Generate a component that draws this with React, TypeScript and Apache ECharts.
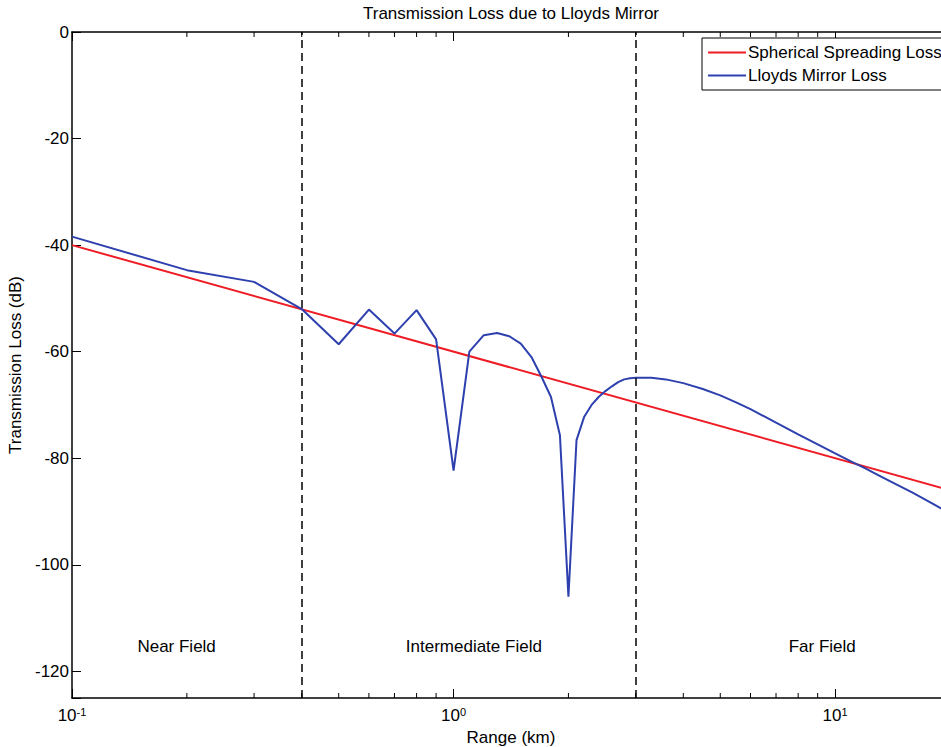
import React, { useEffect, useRef } from 'react';
import * as echarts from 'echarts';

const FONT = "'Liberation Sans', Arial, Helvetica, sans-serif";

// Spherical spreading loss (straight line on log range axis)
const sphericalRange = [0.1, 20];
const sphericalLoss = [-40.0, -86.0];

// Lloyds mirror loss
const lloydsRange = [
  0.1, 0.2, 0.3, 0.4, 0.5, 0.6, 0.7, 0.8, 0.9, 1.0,
  1.1, 1.2, 1.3, 1.4, 1.5, 1.6, 1.7, 1.8, 1.9, 2.0,
  2.1, 2.2, 2.3, 2.4, 2.5, 2.6, 2.7, 2.8, 2.9, 3.0,
  3.3, 3.6, 4.0, 4.5, 5.0, 5.5, 6.0, 7.0, 8.0, 9.0,
  10, 11, 12, 13, 14, 16, 18, 20,
];
const lloydsLoss = [
  -38.4, -44.7, -46.9, -52.0, -58.6, -52.1, -56.6, -52.2, -57.7, -82.3,
  -60.0, -56.9, -56.5, -57.1, -58.5, -61.0, -64.7, -68.5, -75.7, -106.0,
  -76.6, -72.2, -70.0, -68.5, -67.4, -66.5, -65.7, -65.2, -65.0, -64.9,
  -64.9, -65.2, -65.9, -67.0, -68.2, -69.5, -70.8, -73.3, -75.5, -77.4,
  -79.1, -80.6, -81.9, -83.2, -84.4, -86.5, -88.5, -90.4,
];

// Field boundaries (km)
const boundaries = [0.4, 3];

// Field labels
const fieldNames = ['Near Field', 'Intermediate Field', 'Far Field'];
const fieldRange = [0.188, 1.13, 9.25];
const fieldLoss = [-115.3, -115.3, -115.3];

// Minor tick values on the log range axis
const minorTicks = [0.2, 0.3, 0.4, 0.5, 0.6, 0.7, 0.8, 0.9, 2, 3, 4, 5, 6, 7, 8, 9, 20];

const X_MIN = 0.1;
const X_MAX = 20;
const Y_MIN = -125;
const Y_MAX = 0;

export default function App() {
  const ref = useRef<HTMLDivElement>(null);

  useEffect(() => {
    document.body.style.margin = '0';
    if (!ref.current) return;
    const chart = echarts.init(ref.current, null, { renderer: 'svg' });

    const xLabelFormatter = (v: number) => {
      const e = Math.round(Math.log10(v));
      if (Math.abs(Math.pow(10, e) - v) > 1e-6 * v) return '';
      return `{b|10}{s|${e}}`;
    };

    const tickStyle = { color: '#000', width: 1 };
    const axisLineStyle = { color: '#000', width: 1.5 };

    const option: any = {
      animation: false,
      backgroundColor: '#fff',
      title: {
        text: 'Transmission Loss due to Lloyds Mirror',
        left: 363,
        top: 5,
        padding: 0,
        textStyle: { fontFamily: FONT, fontSize: 17, fontWeight: 'normal', color: '#000' },
      },
      legend: {
        data: ['Spherical Spreading Loss', 'Lloyds Mirror Loss'],
        orient: 'vertical',
        left: 702,
        top: 38,
        padding: [6, 30, 6, 6],
        itemGap: 6,
        itemWidth: 38,
        itemHeight: 2,
        icon: 'rect',
        backgroundColor: '#fff',
        borderColor: '#000',
        borderWidth: 1,
        borderRadius: 0,
        textStyle: { fontFamily: FONT, fontSize: 17, color: '#000', padding: [0, 0, 0, -3] },
      },
      grid: {
        left: 72,
        top: 32,
        right: -9,
        bottom: 49,
        containLabel: false,
        outerBoundsMode: 'none',
      },
      xAxis: [
        {
          type: 'log',
          logBase: 10,
          min: X_MIN,
          max: X_MAX,
          position: 'bottom',
          name: 'Range (km)',
          nameLocation: 'middle',
          nameGap: 30,
          nameTextStyle: { fontFamily: FONT, fontSize: 17, color: '#000' },
          axisLine: { show: true, onZero: false, lineStyle: axisLineStyle },
          axisTick: { show: true, inside: true, length: 9, lineStyle: tickStyle },
          splitLine: { show: false },
          axisLabel: {
            show: true,
            margin: 8,
            showMaxLabel: false,
            formatter: xLabelFormatter,
            rich: {
              b: { fontFamily: FONT, fontSize: 17, color: '#000', lineHeight: 18, verticalAlign: 'bottom' },
              s: { fontFamily: FONT, fontSize: 11, color: '#000', lineHeight: 11, verticalAlign: 'top' },
            },
          },
        },
        {
          type: 'log',
          logBase: 10,
          min: X_MIN,
          max: X_MAX,
          position: 'top',
          axisLine: { show: true, onZero: false, lineStyle: axisLineStyle },
          axisTick: { show: true, inside: true, length: 9, lineStyle: tickStyle },
          splitLine: { show: false },
          axisLabel: { show: false },
        },
      ],
      yAxis: {
        type: 'value',
        min: Y_MIN,
        max: Y_MAX,
        minInterval: 20,
        maxInterval: 20,
        splitNumber: 6,
        name: 'Transmission Loss (dB)',
        nameLocation: 'middle',
        nameGap: 33,
        nameTextStyle: { fontFamily: FONT, fontSize: 17, color: '#000' },
        axisLine: { show: true, onZero: false, lineStyle: axisLineStyle },
        axisTick: { show: true, inside: true, length: 9, lineStyle: tickStyle },
        splitLine: { show: false },
        axisLabel: {
          margin: 3,
          fontFamily: FONT,
          fontSize: 17,
          color: '#000',
          formatter: (v: number) => (Math.abs(v % 20) < 1e-9 ? String(v) : ''),
        },
      },
      series: [
        {
          name: 'Spherical Spreading Loss',
          type: 'line',
          xAxisIndex: 0,
          data: sphericalRange.map((r, i) => [r, sphericalLoss[i]]),
          showSymbol: false,
          symbol: 'none',
          color: '#ee1c24',
          lineStyle: { color: '#ee1c24', width: 2 },
          markLine: {
            silent: true,
            symbol: 'none',
            label: { show: false },
            lineStyle: { color: '#000', width: 1.5, type: [8, 5] },
            data: boundaries.map((b) => ({ xAxis: b })),
          },
          z: 2,
        },
        {
          name: 'Lloyds Mirror Loss',
          type: 'line',
          xAxisIndex: 0,
          data: lloydsRange.map((r, i) => [r, lloydsLoss[i]]),
          showSymbol: false,
          symbol: 'none',
          color: '#2e40ad',
          lineStyle: { color: '#2e40ad', width: 2 },
          z: 3,
        },
        {
          name: 'fields',
          type: 'scatter',
          xAxisIndex: 0,
          symbolSize: 0,
          silent: true,
          itemStyle: { opacity: 1 },
          data: fieldNames.map((n, i) => ({ name: n, value: [fieldRange[i], fieldLoss[i]] })),
          label: {
            show: true,
            position: 'inside',
            formatter: (p: any) => p.name,
            fontFamily: FONT,
            fontSize: 17,
            color: '#000',
            opacity: 1,
            textBorderWidth: 0,
          },
        },
        {
          name: 'minorTicks',
          type: 'custom',
          xAxisIndex: 0,
          silent: true,
          data: minorTicks.map((v) => [v, Y_MIN]),
          renderItem: (params: any, api: any) => {
            const x = api.coord([api.value(0), Y_MIN])[0];
            const cs = params.coordSys;
            const bottom = cs.y + cs.height;
            return {
              type: 'group',
              children: [
                { type: 'line', shape: { x1: x, y1: bottom, x2: x, y2: bottom - 5 }, style: { stroke: '#000', lineWidth: 1 } },
                { type: 'line', shape: { x1: x, y1: cs.y, x2: x, y2: cs.y + 5 }, style: { stroke: '#000', lineWidth: 1 } },
              ],
            };
          },
        },
      ],
    };

    chart.setOption(option);
    return () => chart.dispose();
  }, []);

  return <div ref={ref} style={{ width: 941, height: 747 }} />;
}
